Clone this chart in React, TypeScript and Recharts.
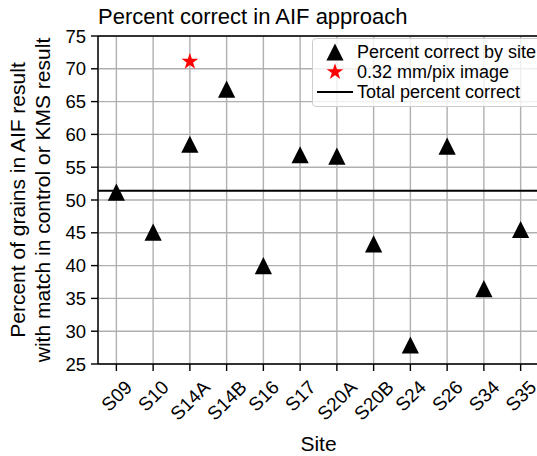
import React from "react";
import {
  ScatterChart,
  Scatter,
  XAxis,
  YAxis,
  CartesianGrid,
  ReferenceLine,
  Label,
} from "recharts";

const sites = ["S09", "S10", "S14A", "S14B", "S16", "S17", "S20A", "S20B", "S24", "S26", "S34", "S35"];
const percentBySite = [51.2, 45.1, 58.5, 66.9, 40.0, 56.9, 56.7, 43.3, 27.9, 58.2, 36.5, 45.5];
const fineSites = ["S14A"];
const finePercent = [71.1];
const totalPercent = 51.4;
const yTicks = [25, 30, 35, 40, 45, 50, 55, 60, 65, 70, 75];

const siteName = "Percent correct by site";
const fineName = "0.32 mm/pix image";
const totalName = "Total percent correct";

const FONT = "'Liberation Sans', Arial, sans-serif";

const siteData = percentBySite.map((v, i) => ({ x: i, y: v }));
const fineData = finePercent.map((v, i) => ({ x: sites.indexOf(fineSites[i]), y: v }));

let ctx: CanvasRenderingContext2D | null = null;
function textWidth(s: string, size: number) {
  if (!ctx) ctx = document.createElement("canvas").getContext("2d");
  if (!ctx) return s.length * size * 0.6;
  ctx.font = `${size}px 'Liberation Sans'`;
  return ctx.measureText(s).width;
}

function Triangle({ cx, cy, color = "#000" }: any) {
  const h = 8.6;
  return <polygon points={`${cx},${cy - h} ${cx - h},${cy + h} ${cx + h},${cy + h}`} fill={color} />;
}

function Star({ cx, cy, r = 8.8, color = "#ff0000" }: any) {
  const pts: string[] = [];
  for (let k = 0; k < 10; k++) {
    const rad = k % 2 === 0 ? r : r * 0.382;
    const a = -Math.PI / 2 + (k * Math.PI) / 5;
    pts.push(`${cx + rad * Math.cos(a)},${cy + rad * Math.sin(a)}`);
  }
  return <polygon points={pts.join(" ")} fill={color} />;
}

// rotated 45deg labels, centred on the tick like matplotlib's default ha
function SiteTick({ x, payload }: any) {
  const label = sites[payload.value] ?? "";
  const fs = 19;
  const w = textWidth(label, fs);
  const cap = fs * 0.716;
  const top = 379;
  const cy = top + (w + cap) / (2 * Math.SQRT2);
  return (
    <text
      x={x}
      y={cy + cap / 2}
      textAnchor="middle"
      fontSize={fs}
      fontFamily={FONT}
      fill="#000"
      transform={`rotate(-45, ${x}, ${cy})`}
    >
      {label}
    </text>
  );
}

function YLabel() {
  return (
    <g fontFamily={FONT} fontSize={21} fill="#000">
      <text x={25} y={200} textAnchor="middle" transform="rotate(-90, 25, 200)">
        Percent of grains in AIF result
      </text>
      <text x={50} y={200} textAnchor="middle" transform="rotate(-90, 50, 200)">
        with match in control or KMS result
      </text>
    </g>
  );
}

function LegendBox() {
  const row = { display: "flex", alignItems: "center", height: 20, lineHeight: "20px" } as const;
  return (
    <div
      style={{
        position: "absolute",
        left: 312,
        top: 38,
        width: 240,
        height: 61,
        padding: "3px 0",
        background: "rgba(255,255,255,0.8)",
        border: "1px solid #cccccc",
        borderRadius: 4,
        fontSize: 18,
        fontFamily: FONT,
        color: "#000",
        whiteSpace: "nowrap",
      }}
    >
      <div style={row}>
        <svg width={44} height={20}>
          <Triangle cx={22} cy={10} />
        </svg>
        <span>{siteName}</span>
      </div>
      <div style={row}>
        <svg width={44} height={20}>
          <Star cx={22} cy={10} />
        </svg>
        <span>{fineName}</span>
      </div>
      <div style={row}>
        <svg width={44} height={20}>
          <line x1={4} x2={40} y1={10} y2={10} stroke="#000" strokeWidth={2} />
        </svg>
        <span>{totalName}</span>
      </div>
    </div>
  );
}

export default function App() {
  return (
    <div
      style={{
        position: "absolute",
        left: 0,
        top: 0,
        width: 537,
        height: 456,
        overflow: "hidden",
        background: "#fff",
        fontFamily: FONT,
      }}
    >
      <div style={{ position: "absolute", left: 98, top: 6, fontSize: 22, lineHeight: "22px", color: "#000" }}>
        Percent correct in AIF approach
      </div>
      <ScatterChart width={541} height={456} margin={{ top: 36, right: 2, bottom: 0, left: 0 }}>
        <CartesianGrid stroke="#b0b0b0" strokeWidth={1.4} />
        <XAxis
          type="number"
          dataKey="x"
          domain={[-0.5, 11.5]}
          ticks={sites.map((_, i) => i)}
          interval={0}
          height={92}
          tick={<SiteTick />}
          tickSize={7}
          tickLine={{ stroke: "#000", strokeWidth: 1.4 }}
          axisLine={{ stroke: "#000", strokeWidth: 1.4 }}
        >
          <Label
            value="Site"
            position="insideBottom"
            offset={5}
            style={{ fontSize: 21, fontFamily: FONT, fill: "#000" }}
          />
        </XAxis>
        <YAxis
          type="number"
          dataKey="y"
          domain={[25, 75]}
          ticks={yTicks}
          interval={0}
          width={98}
          tickSize={7}
          tickMargin={5}
          tick={{ fontSize: 18.5, fill: "#000", fontFamily: FONT }}
          tickLine={{ stroke: "#000", strokeWidth: 1.4 }}
          axisLine={{ stroke: "#000", strokeWidth: 1.4 }}
          label={<YLabel />}
        />
        <ReferenceLine y={75} stroke="#000" strokeWidth={1.4} />
        <ReferenceLine x={11.5} stroke="#000" strokeWidth={1.4} />
        <ReferenceLine y={totalPercent} stroke="#000" strokeWidth={2} />
        <Scatter name={siteName} data={siteData} shape={(p: any) => <Triangle cx={p.cx} cy={p.cy} />} isAnimationActive={false} />
        <Scatter name={fineName} data={fineData} shape={(p: any) => <Star cx={p.cx} cy={p.cy} />} isAnimationActive={false} />
      </ScatterChart>
      <LegendBox />
    </div>
  );
}
